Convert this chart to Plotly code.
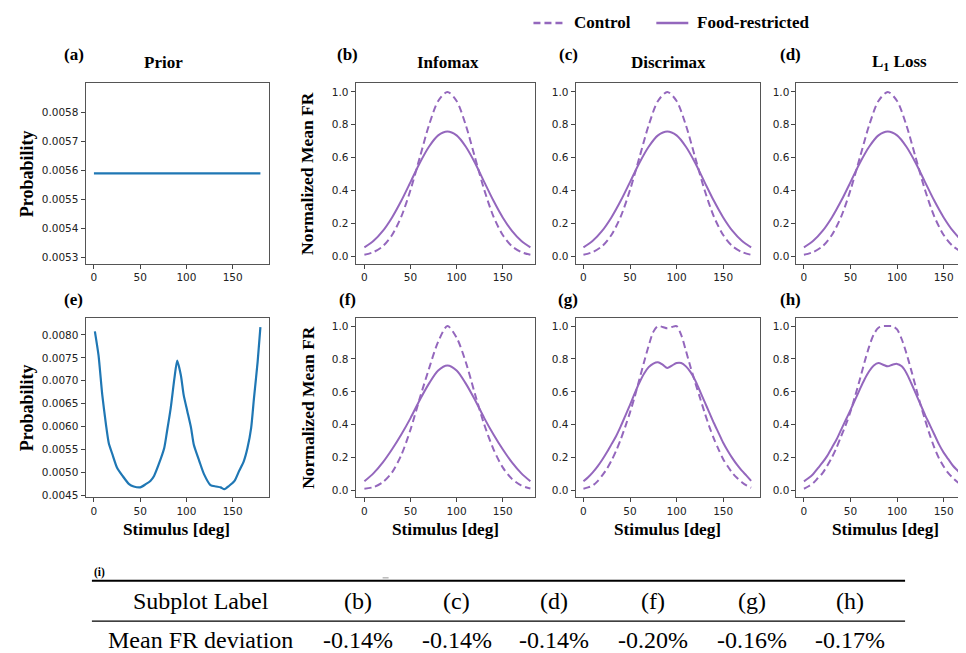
import plotly.graph_objects as go

# ---------------- data ----------------
stim_prior = [0, 180]
prior_uniform = [0.00559, 0.00559]

stim_e = [1, 5, 9, 13, 16, 20, 25, 31, 38, 43, 50, 56, 61, 65, 70, 76, 79, 83, 87, 90,
          94, 97, 101, 105, 108, 114, 119, 126, 132, 137, 141, 146, 152, 157, 162, 166,
          170, 173, 177, 180]
prior_learned = [0.00808, 0.00755, 0.00669, 0.00604, 0.00564, 0.00539, 0.00510, 0.00492,
                 0.00474, 0.00469, 0.00467, 0.00474, 0.00481, 0.00492, 0.00517, 0.00553,
                 0.00589, 0.00640, 0.00705, 0.00744, 0.00712, 0.00669, 0.00633, 0.00597,
                 0.00560, 0.00524, 0.00496, 0.00472, 0.00469, 0.00467, 0.00463, 0.00470,
                 0.00481, 0.00503, 0.00524, 0.00553, 0.00597, 0.00661, 0.00741, 0.00817]

stim10 = [0, 10, 20, 30, 40, 50, 60, 70, 80, 90, 100, 110, 120, 130, 140, 150, 160, 170, 180]
ctrl_top = [0.010, 0.027, 0.062, 0.130, 0.242, 0.404, 0.600, 0.797, 0.945, 1.000,
            0.945, 0.797, 0.600, 0.404, 0.242, 0.130, 0.062, 0.027, 0.010]
food_top = [0.055, 0.095, 0.155, 0.237, 0.338, 0.452, 0.568, 0.667, 0.736, 0.760,
            0.736, 0.667, 0.568, 0.452, 0.338, 0.237, 0.155, 0.095, 0.055]
ctrl_f = [0.010, 0.020, 0.050, 0.110, 0.215, 0.370, 0.560, 0.740, 0.905, 1.000,
          0.930, 0.780, 0.585, 0.400, 0.250, 0.140, 0.070, 0.030, 0.012]
food_f = [0.055, 0.105, 0.170, 0.250, 0.340, 0.440, 0.550, 0.650, 0.730, 0.760,
          0.730, 0.650, 0.550, 0.440, 0.340, 0.250, 0.170, 0.105, 0.055]

stim5 = [0, 5, 10, 15, 20, 25, 30, 35, 40, 45, 50, 55, 60, 65, 70, 75, 80, 85, 90,
         95, 100, 105, 110, 115, 120, 125, 130, 135, 140, 145, 150, 155, 160, 165, 170, 175, 180]
ctrl_g = [0.010, 0.018, 0.030, 0.055, 0.090, 0.130, 0.180, 0.240, 0.310, 0.390, 0.475,
          0.570, 0.675, 0.780, 0.880, 0.965, 1.000, 0.995, 0.987, 0.995, 1.000, 0.945,
          0.850, 0.750, 0.655, 0.565, 0.475, 0.390, 0.315, 0.250, 0.190, 0.145, 0.105,
          0.075, 0.050, 0.030, 0.016]
food_g = [0.055, 0.080, 0.110, 0.145, 0.185, 0.230, 0.280, 0.330, 0.390, 0.455, 0.520,
          0.590, 0.655, 0.710, 0.750, 0.772, 0.780, 0.765, 0.745, 0.760, 0.775, 0.775,
          0.755, 0.720, 0.670, 0.605, 0.540, 0.475, 0.410, 0.350, 0.290, 0.240, 0.195,
          0.155, 0.120, 0.090, 0.058]
ctrl_h = [0.010, 0.025, 0.045, 0.075, 0.105, 0.150, 0.200, 0.260, 0.330, 0.400, 0.480,
          0.575, 0.675, 0.780, 0.875, 0.950, 0.990, 1.000, 1.000, 1.000, 0.980, 0.920,
          0.835, 0.735, 0.630, 0.525, 0.430, 0.340, 0.260, 0.195, 0.145, 0.105, 0.075,
          0.050, 0.032, 0.020, 0.013]
food_h = [0.055, 0.075, 0.100, 0.135, 0.170, 0.210, 0.260, 0.310, 0.370, 0.430, 0.490,
          0.552, 0.615, 0.675, 0.725, 0.760, 0.775, 0.765, 0.755, 0.765, 0.770, 0.755,
          0.715, 0.655, 0.590, 0.525, 0.460, 0.400, 0.340, 0.280, 0.230, 0.190, 0.150,
          0.120, 0.090, 0.070, 0.055]

table_labels = ["(b)", "(c)", "(d)", "(f)", "(g)", "(h)"]
table_values = ["-0.14%", "-0.14%", "-0.14%", "-0.20%", "-0.16%", "-0.17%"]

# ---------------- layout helpers ----------------
W, H = 966, 653
PURPLE = "#9467bd"
BLUE = "#1f77b4"
SERIF = "Liberation Serif"


def X(px):
    return px / W


def Y(py):
    return 1 - py / H


fig = go.Figure()

cols = [(77.7, 261.0), (348.0, 528.0), (568.3, 752.3), (789.3, 966.0)]
rows = [(75.7, 256.7), (311.0, 491.7)]
xranges = [[-9, 189], [-9.5, 185.5], [-8.3, 189], [-8.0, 181.5]]

panels = {}
n = 0
for r in range(2):
    for c in range(4):
        n += 1
        panels[(r, c)] = n

FR_RANGE = [-0.043, 1.052]

axis_common = dict(showline=True, linecolor="#555555", linewidth=1.1, mirror=True,
                   ticks="outside", ticklen=4, tickcolor="#444444", tickwidth=1,
                   showgrid=False, zeroline=False,
                   tickfont=dict(family="DejaVu Sans", size=10.5, color="#222222"))

for (r, c), k in panels.items():
    xa = "xaxis" if k == 1 else f"xaxis{k}"
    ya = "yaxis" if k == 1 else f"yaxis{k}"
    x0, x1 = cols[c]
    y0, y1 = rows[r]
    xd = [X(x0), min(X(x1), 1.0)]
    yd = [Y(y1), Y(y0)]
    fig.layout[xa] = dict(domain=xd, range=xranges[c], anchor=f"y{k}" if k > 1 else "y",
                          tickvals=[0, 50, 100, 150], **axis_common)
    if c == 0 and r == 0:
        yr = [0.00528, 0.00590]
        tv = [0.0053, 0.0054, 0.0055, 0.0056, 0.0057, 0.0058]
        tf = ".4f"
    elif c == 0 and r == 1:
        yr = [0.00445, 0.00838]
        tv = [0.0045, 0.0050, 0.0055, 0.0060, 0.0065, 0.0070, 0.0075, 0.0080]
        tf = ".4f"
    else:
        yr = FR_RANGE
        tv = [0.0, 0.2, 0.4, 0.6, 0.8, 1.0]
        tf = ".1f"
    fig.layout[ya] = dict(domain=yd, range=yr, anchor=f"x{k}" if k > 1 else "x",
                          tickvals=tv, tickformat=tf, **axis_common)


def ax(k):
    return ("x" if k == 1 else f"x{k}"), ("y" if k == 1 else f"y{k}")


xa, ya = ax(panels[(0, 0)])
fig.add_trace(go.Scatter(x=stim_prior, y=prior_uniform, mode="lines",
                         line=dict(color=BLUE, width=2.2), xaxis=xa, yaxis=ya, showlegend=False))
xa, ya = ax(panels[(1, 0)])
fig.add_trace(go.Scatter(x=stim_e, y=prior_learned, mode="lines",
                         line=dict(color=BLUE, width=2.2, shape="spline", smoothing=0.6),
                         xaxis=xa, yaxis=ya, showlegend=False))

fr_sets = {
    (0, 1): (stim10, ctrl_top, food_top),
    (0, 2): (stim10, ctrl_top, food_top),
    (0, 3): (stim10, ctrl_top, food_top),
    (1, 1): (stim10, ctrl_f, food_f),
    (1, 2): (stim5, ctrl_g, food_g),
    (1, 3): (stim5, ctrl_h, food_h),
}
for key, (xs, cy, fy) in fr_sets.items():
    xa, ya = ax(panels[key])
    fig.add_trace(go.Scatter(x=xs, y=cy, mode="lines", name="Control",
                             line=dict(color=PURPLE, width=2, dash="7px,4px", shape="spline", smoothing=0.8),
                             xaxis=xa, yaxis=ya, showlegend=False))
    fig.add_trace(go.Scatter(x=xs, y=fy, mode="lines", name="Food-restricted",
                             line=dict(color=PURPLE, width=2, shape="spline", smoothing=0.8),
                             xaxis=xa, yaxis=ya, showlegend=False))

annotations = []
shapes = []


def txt(text, px, py, size, bold=True, angle=0, xanchor="center", color="black"):
    t = f"<b>{text}</b>" if bold else text
    annotations.append(dict(text=t, x=X(px), y=Y(py), xref="paper", yref="paper",
                            showarrow=False, xanchor=xanchor, yanchor="middle", textangle=angle,
                            font=dict(family=SERIF, size=size, color=color)))


for lab, px, py in [("(a)", 66, 47), ("(b)", 340, 47), ("(c)", 561, 47), ("(d)", 783, 47),
                    ("(e)", 66, 293), ("(f)", 340, 293), ("(g)", 561, 293), ("(h)", 783, 293)]:
    txt(lab, px, py, 17)
for t, px in [("Prior", 156), ("Infomax", 440), ("Discrimax", 661), ("L<sub>1</sub> Loss", 892)]:
    txt(t, px, 55, 17)

txt("Probability", 19, 166, 18, angle=-90)
txt("Probability", 19, 401, 18, angle=-90)
txt("Normalized Mean FR", 300, 166, 17.5, angle=-90)
txt("Normalized Mean FR", 300, 401, 17.5, angle=-90)
for px in [169, 438, 660, 878]:
    txt("Stimulus [deg]", px, 524, 17.3)

shapes.append(dict(type="line", xref="paper", yref="paper", x0=X(526), x1=X(557), y0=Y(15), y1=Y(15),
                   line=dict(color=PURPLE, width=2.5, dash="7px,4px")))
txt("Control", 565, 15, 17, xanchor="left")
shapes.append(dict(type="line", xref="paper", yref="paper", x0=X(649), x1=X(681), y0=Y(15), y1=Y(15),
                   line=dict(color=PURPLE, width=2.5)))
txt("Food-restricted", 688, 15, 17, xanchor="left")

txt("(i)", 92, 567, 11.5)
shapes.append(dict(type="line", xref="paper", yref="paper", x0=X(375), x1=X(381), y0=Y(572.5), y1=Y(572.5),
                   line=dict(color="#999999", width=1)))
shapes.append(dict(type="line", xref="paper", yref="paper", x0=X(84), x1=X(898), y0=Y(575.5), y1=Y(575.5),
                   line=dict(color="black", width=2)))
shapes.append(dict(type="line", xref="paper", yref="paper", x0=X(84), x1=X(898), y0=Y(616), y1=Y(616),
                   line=dict(color="black", width=1.3)))
txt("Subplot Label", 193, 596, 24, bold=False)
txt("Mean FR deviation", 193, 635, 24, bold=False)
col_x = [350, 449, 547, 646, 745, 843]
for lab, val, cx in zip(table_labels, table_values, col_x):
    txt(lab, cx, 596, 24, bold=False)
    txt(val, cx, 635, 24, bold=False)

fig.update_layout(width=W, height=H, margin=dict(l=0, r=0, t=0, b=0),
                  paper_bgcolor="white", plot_bgcolor="white",
                  annotations=annotations, shapes=shapes, showlegend=False)

fig.write_html("out.html")
